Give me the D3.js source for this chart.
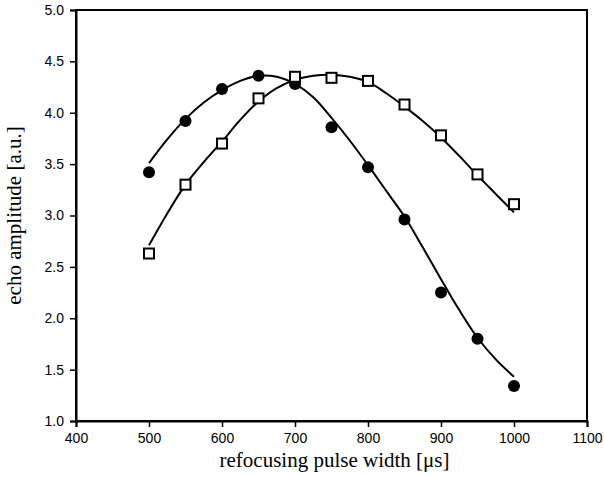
<!DOCTYPE html>
<html>
<head>
<meta charset="utf-8">
<script src="https://cdn.jsdelivr.net/npm/d3@7"></script>
<style>
  body { margin: 0; background: #fff; }
  .tick text { font-family: "Liberation Sans", Arial, sans-serif; font-size: 14px; fill: #000; }
  .title { font-family: "Liberation Serif", "Times New Roman", serif; font-size: 21px; fill: #000; }
</style>
</head>
<body>
<div id="chart"></div>
<script>
// measured points (pulse width in µs, echo amplitude in a.u.)
const widths = [500, 550, 600, 650, 700, 750, 800, 850, 900, 950, 1000];
const circleAmp = [3.42, 3.92, 4.23, 4.36, 4.28, 3.86, 3.47, 2.96, 2.25, 1.80, 1.34];
const squareAmp = [2.63, 3.30, 3.70, 4.14, 4.35, 4.34, 4.31, 4.08, 3.78, 3.40, 3.11];

// fitted curves
const fitX = [500, 525, 550, 575, 600, 625, 650, 675, 700, 725, 750, 775, 800, 825, 850, 875, 900, 925, 950, 975, 1000];
const circleFit = [3.51, 3.74, 3.94, 4.10, 4.22, 4.31, 4.36, 4.35, 4.28, 4.15, 3.95, 3.73, 3.49, 3.24, 2.99, 2.69, 2.38, 2.08, 1.81, 1.60, 1.43];
const squareFit = [2.71, 3.02, 3.30, 3.52, 3.72, 3.93, 4.11, 4.24, 4.32, 4.36, 4.37, 4.35, 4.30, 4.19, 4.06, 3.92, 3.76, 3.58, 3.39, 3.21, 3.03];

const xTicks = [400, 500, 600, 700, 800, 900, 1000, 1100];
const yTicks = [1.0, 1.5, 2.0, 2.5, 3.0, 3.5, 4.0, 4.5, 5.0];

const width = 604, height = 477;
const margin = { top: 10, right: 17, bottom: 56, left: 76 };

const svg = d3.select('#chart').append('svg')
    .attr('width', width)
    .attr('height', height);

const x = d3.scaleLinear().domain([400, 1100]).range([margin.left, width - margin.right]);
const y = d3.scaleLinear().domain([1, 5]).range([height - margin.bottom, margin.top]);

// frame
svg.append('rect')
    .attr('x', x(400)).attr('y', y(5))
    .attr('width', x(1100) - x(400)).attr('height', y(1) - y(5))
    .attr('fill', 'none').attr('stroke', '#000').attr('stroke-width', 2);

const xAxis = svg.append('g')
    .attr('transform', `translate(0,${y(1)})`)
    .call(d3.axisBottom(x).tickValues(xTicks).tickSize(6).tickPadding(6).tickFormat(d3.format('d')));
xAxis.select('.domain').attr('stroke-width', 2);
xAxis.selectAll('.tick line').attr('stroke-width', 1.5);

const yAxis = svg.append('g')
    .attr('transform', `translate(${x(400)},0)`)
    .call(d3.axisLeft(y).tickValues(yTicks).tickSize(6).tickPadding(6).tickFormat(d3.format('.1f')));
yAxis.select('.domain').attr('stroke-width', 2);
yAxis.selectAll('.tick line').attr('stroke-width', 1.5);

// axis titles
svg.append('text').attr('class', 'title')
    .attr('x', (x(400) + x(1100)) / 2 + 3).attr('y', 467)
    .attr('text-anchor', 'middle')
    .text('refocusing pulse width [μs]');

svg.append('text').attr('class', 'title')
    .attr('transform', `translate(21,${(y(1) + y(5)) / 2}) rotate(-90)`)
    .attr('text-anchor', 'middle')
    .text('echo amplitude [a.u.]');

// fit lines
const line = d3.line().x(d => x(d[0])).y(d => y(d[1])).curve(d3.curveCatmullRom);

svg.append('path')
    .datum(fitX.map((v, i) => [v, circleFit[i]]))
    .attr('d', line).attr('fill', 'none').attr('stroke', '#000').attr('stroke-width', 2);

svg.append('path')
    .datum(fitX.map((v, i) => [v, squareFit[i]]))
    .attr('d', line).attr('fill', 'none').attr('stroke', '#000').attr('stroke-width', 2);

// filled circles
svg.selectAll('.dot')
    .data(widths.map((v, i) => [v, circleAmp[i]]))
    .enter().append('circle')
    .attr('class', 'dot')
    .attr('cx', d => x(d[0])).attr('cy', d => y(d[1]))
    .attr('r', 6).attr('fill', '#000');

// open squares
const s = 10;
svg.selectAll('.sq')
    .data(widths.map((v, i) => [v, squareAmp[i]]))
    .enter().append('rect')
    .attr('class', 'sq')
    .attr('x', d => x(d[0]) - s / 2).attr('y', d => y(d[1]) - s / 2)
    .attr('width', s).attr('height', s)
    .attr('fill', '#fff').attr('stroke', '#000').attr('stroke-width', 2);
</script>
</body>
</html>
